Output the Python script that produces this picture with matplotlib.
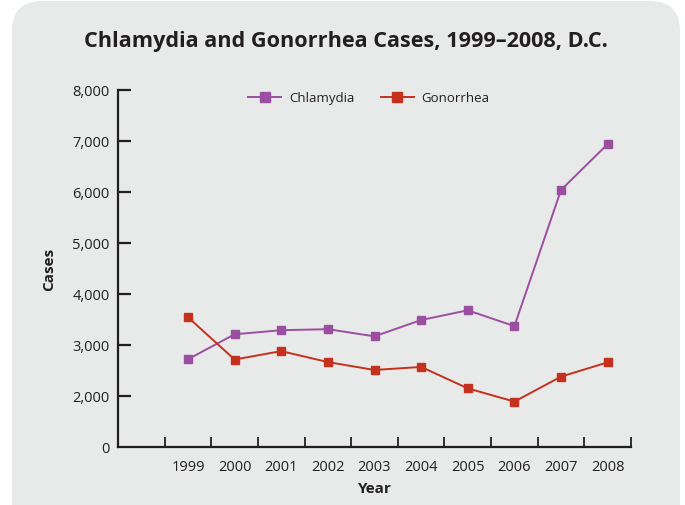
import matplotlib
matplotlib.use("Agg")
import matplotlib.pyplot as plt
from matplotlib.patches import FancyBboxPatch

years = ["1999", "2000", "2001", "2002", "2003", "2004", "2005", "2006", "2007", "2008"]
chlamydia = [2720, 3210, 3290, 3310, 3170, 3490, 3680, 3370, 6040, 6940]
gonorrhea = [3545, 2715, 2880, 2665, 2510, 2570, 2150, 1890, 2380, 2660]
ytick_vals = [1000, 2000, 3000, 4000, 5000, 6000, 7000, 8000]
ytick_labels = ["0", "2,000", "3,000", "4,000", "5,000", "6,000", "7,000", "8,000"]

purple = "#9b4fa0"
red = "#c4321e"
ink = "#231f20"

plt.rcParams["font.family"] = ["Open Sans", "DejaVu Sans"]

W, H = 685, 506
fig = plt.figure(figsize=(W / 100, H / 100), dpi=100)
fig.patch.set_facecolor("white")

# rounded grey panel behind everything, drawn in pixel units
bg = fig.add_axes([0, 0, 1, 1], zorder=0)
bg.set_xlim(0, W)
bg.set_ylim(H, 0)
bg.axis("off")
bg.add_patch(FancyBboxPatch((12, 2), 668, 540, boxstyle="round,pad=0,rounding_size=30",
                            facecolor="#e8e9e9", edgecolor="none"))

ax = fig.add_axes([118 / W, 1 - 448 / H, (631 - 118) / W, (448 - 91) / H], zorder=1)
ax.patch.set_alpha(0)

x = list(range(len(years)))
ax.plot(x, chlamydia, color=purple, lw=1.4, marker="s", ms=5.5, label="Chlamydia")
ax.plot(x, gonorrhea, color=red, lw=1.4, marker="s", ms=5.5, label="Gonorrhea")

ax.set_xlim(-1.5, 9.5)
ax.set_ylim(1000, 8000)

for s in ["top", "right"]:
    ax.spines[s].set_visible(False)
for s in ["left", "bottom"]:
    ax.spines[s].set_linewidth(1.6)
    ax.spines[s].set_color(ink)

ax.set_yticks(ytick_vals)
ax.set_yticklabels(ytick_labels)
ax.tick_params(axis="y", direction="in", length=9, width=1.6, color=ink,
               labelsize=10.5, labelcolor=ink, pad=6)
ax.yaxis.get_major_ticks()[0].tick1line.set_visible(False)

ax.set_xticks([i - 0.5 for i in range(len(years) + 1)])
ax.set_xticklabels([])
ax.set_xticks(x, minor=True)
ax.set_xticklabels(years, minor=True)
ax.tick_params(axis="x", which="major", direction="in", length=7, width=1.3, color=ink)
ax.tick_params(axis="x", which="minor", length=0, labelsize=10.5, labelcolor=ink, pad=9)

ax.set_xlabel("Year", fontsize=11, fontweight="bold", color=ink, labelpad=5)
ax.set_ylabel("Cases", fontsize=11, fontweight="bold", color=ink, labelpad=12)

ax.legend(loc="upper center", bbox_to_anchor=(0.489, 1.03), ncol=2, frameon=False,
          fontsize=9.5, handlelength=2.5, handletextpad=0.6, columnspacing=2.0,
          markerscale=1.3, labelcolor=ink)

fig.text(345.5 / W, 1 - 42 / H, "Chlamydia and Gonorrhea Cases, 1999\u20132008, D.C.",
         ha="center", va="center", fontsize=15.6, fontweight="bold", color=ink)

fig.savefig("out.png", dpi=100)
